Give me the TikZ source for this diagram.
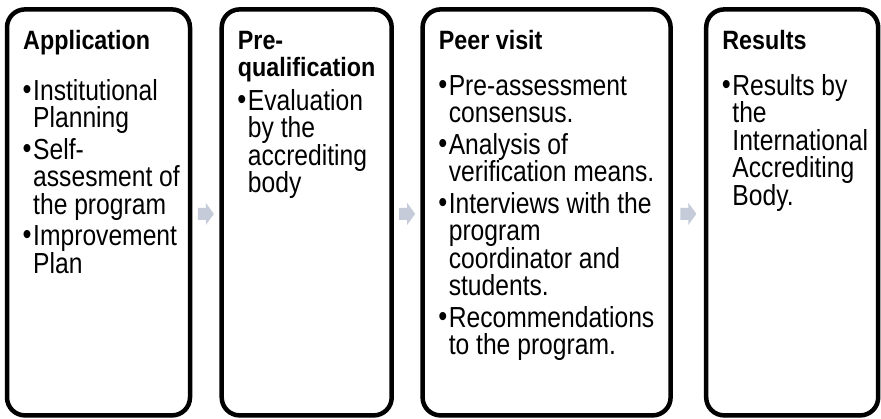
\documentclass[tikz,border=0pt]{standalone}
\usepackage{fontspec}
\setmainfont{Liberation Sans}[FakeStretch=0.85]
\newfontfamily\headfam{Liberation Sans}[FakeStretch=0.88]
\usepackage{tikz}
\usetikzlibrary{positioning}
\usetikzlibrary{calc}
\definecolor{flowgray}{RGB}{197,203,216}
\newcommand{\bul}{\makebox[10pt][l]{\hspace*{-0.5pt}\raisebox{1pt}{\fontsize{30}{30}\selectfont\textbullet}}}
\newcommand{\ind}{\hspace*{10pt}}
\newcommand{\bodyfont}{\fontsize{29}{27.5}\selectfont\lineskiplimit=-20pt}
\newcommand{\headfont}{\headfam\fontsize{26.5}{27.7}\selectfont\bfseries\lineskiplimit=-20pt}

\begin{document}
\begin{tikzpicture}[x=1pt, y=1pt,
		stage/.style={draw, line width=4.5pt, rounded corners=18pt, minimum height=406pt, inner sep=0pt, outer sep=0pt},
		flow/.style={fill=flowgray, draw=none},
		head/.style={inner sep=0pt, font=\headfont},
		items/.style={inner sep=0pt, font=\bodyfont}]
			\useasboundingbox (0,0) rectangle (881,418);
			\node (app) at (98.5, 205.6) [stage, minimum width=183pt] {};
			\node (pre) at (306.7, 205.6) [stage, minimum width=170pt] {};
			\node (peer) at (546.6, 205.6) [stage, minimum width=248pt] {};
			\node (res) at (792.2, 205.6) [stage, minimum width=172pt] {};
			\foreach \a/\b in {app/pre, pre/peer, peer/res} {
				\coordinate (\a-\b) at ($(\a.east)!0.5!(\b.west)+(0,-1.5)$);
				\fill [flow] ($(\a-\b)+(-8,-6)$) -- ++(8,0) -- ++(0,-5) -- ++(8,11) -- ++(-8,11) -- ++(0,-5) -- ++(-8,0) -- cycle;
			}
			\node [head, below right=39.7pt and 16pt of app.north west, anchor=base west] (app-t) {\parbox[t]{170pt}{\raggedright Application}};
			\node [head, below right=39.7pt and 16pt of pre.north west, anchor=base west] (pre-t) {\parbox[t]{160pt}{\raggedright Pre-\\qualification}};
			\node [head, below right=39.7pt and 16pt of peer.north west, anchor=base west] (peer-t) {\parbox[t]{230pt}{\raggedright Peer visit}};
			\node [head, below right=39.7pt and 16pt of res.north west, anchor=base west] (res-t) {\parbox[t]{160pt}{\raggedright Results}};
			\node [items, below right=90.7pt and 16pt of app.north west, anchor=base west] (app-b) {\parbox[t]{170pt}{\raggedright
				\bul Institutional\\\ind Planning\\[4pt]
				\bul Self-\\\ind assesment of\\\ind the program\\[4pt]
				\bul Improvement\\\ind Plan}};
			\node [items, below right=100.7pt and 16pt of pre.north west, anchor=base west] (pre-b) {\parbox[t]{160pt}{\raggedright
				\bul Evaluation\\\ind by the\\\ind accrediting\\\ind body}};
			\node [items, below right=85.7pt and 16pt of peer.north west, anchor=base west] (peer-b) {\parbox[t]{230pt}{\raggedright
				\bul Pre-assessment\\\ind consensus.\\[4pt]
				\bul Analysis of\\\ind verification means.\\[4pt]
				\bul Interviews with the\\\ind program\\\ind coordinator and\\\ind students.\\[4pt]
				\bul Recommendations\\\ind to the program.}};
			\node [items, below right=85.7pt and 16pt of res.north west, anchor=base west] (res-b) {\parbox[t]{160pt}{\raggedright
				\bul Results by\\\ind the\\\ind International\\\ind Accrediting\\\ind Body.}};
		\end{tikzpicture}
\end{document}
